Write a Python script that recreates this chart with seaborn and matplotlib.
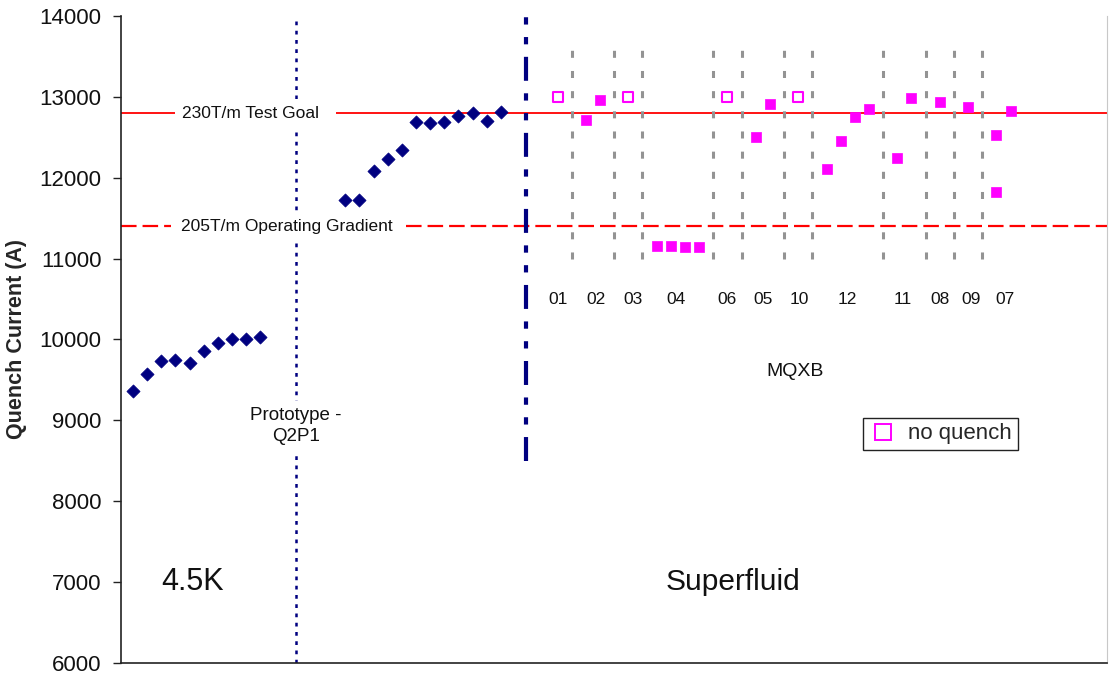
import matplotlib
matplotlib.use("Agg")
import matplotlib.pyplot as plt
from matplotlib.lines import Line2D
import seaborn as sns
import pandas as pd

# ---- data ----
proto_x = [0, 1, 2, 3, 4, 5, 6, 7, 8, 9]
proto_y = [9360, 9570, 9735, 9745, 9710, 9860, 9960, 10010, 10010, 10030]

proto_sf_x = [15, 16, 17, 18, 19, 20, 21, 22, 23, 24, 25, 26]
proto_sf_y = [11720, 11720, 12085, 12230, 12345, 12690, 12675, 12690, 12765, 12800, 12700, 12815]

mqxb_x = [32, 33, 37, 38, 39, 40, 44, 45, 49, 50, 51, 52, 54, 55, 57, 59, 61, 61, 62]
mqxb_y = [12715, 12960, 11155, 11160, 11145, 11145, 12500, 12910, 12110, 12450,
          12750, 12850, 12245, 12985, 12935, 12875, 12530, 11825, 12825]

noquench_x = [30, 35, 42, 47]
noquench_y = [13000, 13000, 13000, 13000]

separators_x = [31, 34, 36, 41, 43, 46, 48, 53, 56, 58, 60]
group_labels = ['01', '02', '03', '04', '06', '05', '10', '12', '11', '08', '09', '07']
group_label_x = [30, 32.7, 35.3, 38.4, 42, 44.5, 47.1, 50.5, 54.4, 57.0, 59.2, 61.6]

goal_current = 12800
operating_current = 11400
y_ticks = [6000, 7000, 8000, 9000, 10000, 11000, 12000, 13000, 14000]

# ---- figure ----
sns.set_style("ticks")
plt.rcParams['font.family'] = ['Liberation Sans', 'DejaVu Sans']

fig = plt.figure(figsize=(11.09, 6.75), dpi=100)
ax = fig.add_axes([0.109, 0.0178, 0.889, 0.9585])

navy = '#000080'
magenta = '#FF00FF'
xmin, xmax = -0.85, 68.8

# reference lines (interrupted where their labels sit)
ax.hlines([goal_current, goal_current], [xmin, 14.35], [3.2, xmax],
          color='#FF0000', lw=1.3, zorder=1)
ax.hlines([operating_current, operating_current], [xmin, 19.3], [2.7, xmax],
          color='#FF0000', lw=1.6, linestyles=[(0, (7, 2.7))], zorder=1)

# separators
ax.vlines(separators_x, 11000, 13700, color='#939393', lw=2.2,
          linestyles=[(0, (2.3, 4.3))], zorder=1)
ax.axvline(11.5, color=navy, lw=1.8, dashes=(1.5, 2.2), zorder=1)
ax.vlines([27.8], 8500, 14000, color=navy, lw=3,
          linestyles=[(0, (5.75, 3, 1.75, 3, 1.75, 3))], zorder=1)

# points
df_proto = pd.DataFrame({'x': proto_x + proto_sf_x, 'y': proto_y + proto_sf_y})
sns.scatterplot(data=df_proto, x='x', y='y', marker='D', s=45, color=navy,
                edgecolor=navy, linewidth=0.5, ax=ax, zorder=3)
df_q = pd.DataFrame({'x': mqxb_x, 'y': mqxb_y})
sns.scatterplot(data=df_q, x='x', y='y', marker='s', s=50, color=magenta,
                edgecolor=magenta, linewidth=0.5, ax=ax, zorder=3)
df_nq = pd.DataFrame({'x': noquench_x, 'y': noquench_y})
sns.scatterplot(data=df_nq, x='x', y='y', marker='s', s=42, facecolor='white',
                edgecolor=magenta, linewidth=1.5, ax=ax, zorder=3)

# text labels
wb = dict(facecolor='white', edgecolor='none', pad=5)
ax.text(8.3, goal_current, '230T/m Test Goal', ha='center', va='center',
        fontsize=12.5, color='#111111', bbox=wb, zorder=2)
ax.text(10.9, operating_current, '205T/m Operating Gradient', ha='center', va='center',
        fontsize=12.5, color='#111111', bbox=wb, zorder=2)
ax.text(11.5, 8930, 'Prototype -\nQ2P1', ha='center', va='center', fontsize=13.5,
        color='#111111', linespacing=1.35, bbox=dict(facecolor='white', edgecolor='none', pad=4),
        zorder=2)
ax.text(4.2, 7000, '4.5K', ha='center', va='center', fontsize=22, color='#111111')
ax.text(42.4, 7000, 'Superfluid', ha='center', va='center', fontsize=21.5, color='#111111')
ax.text(46.8, 9600, 'MQXB', ha='center', va='center', fontsize=14, color='#111111')
for lx, lab in zip(group_label_x, group_labels):
    ax.text(lx, 10490, lab, ha='center', va='center', fontsize=12.5, color='#111111')

# legend
h = Line2D([], [], linestyle='none', marker='s', markersize=12, markerfacecolor='white',
           markeredgecolor=magenta, markeredgewidth=1.4)
leg = ax.legend([h], ['no quench'], loc='upper left', bbox_to_anchor=(0.7525, 0.379),
                fontsize=16, frameon=True, fancybox=False, framealpha=1,
                borderpad=0.25, handletextpad=0.5, handlelength=1.3, borderaxespad=0)
leg.get_frame().set_edgecolor('#222222')
leg.get_frame().set_linewidth(1.0)

# axes
ax.set_xlim(xmin, xmax)
ax.set_ylim(6000, 14000)
ax.set_yticks(y_ticks)
ax.set_xticks([])
ax.tick_params(axis='y', labelsize=16, length=6, width=1, direction='out', pad=8,
               colors='#222222', labelcolor='#111111')
ax.set_xlabel('')
ax.set_ylabel('Quench Current (A)', fontsize=15.5, fontweight='bold', labelpad=10)
ax.yaxis.set_label_coords(-0.095, 0.5)
ax.spines['top'].set_visible(False)
ax.spines['right'].set_color('#c8c8c8')
ax.spines['right'].set_linewidth(0.8)
ax.spines['left'].set_color('#222222')
ax.spines['bottom'].set_color('#222222')
ax.spines['left'].set_linewidth(1.2)
ax.spines['bottom'].set_linewidth(1.2)

fig.savefig('out.png', dpi=100)
